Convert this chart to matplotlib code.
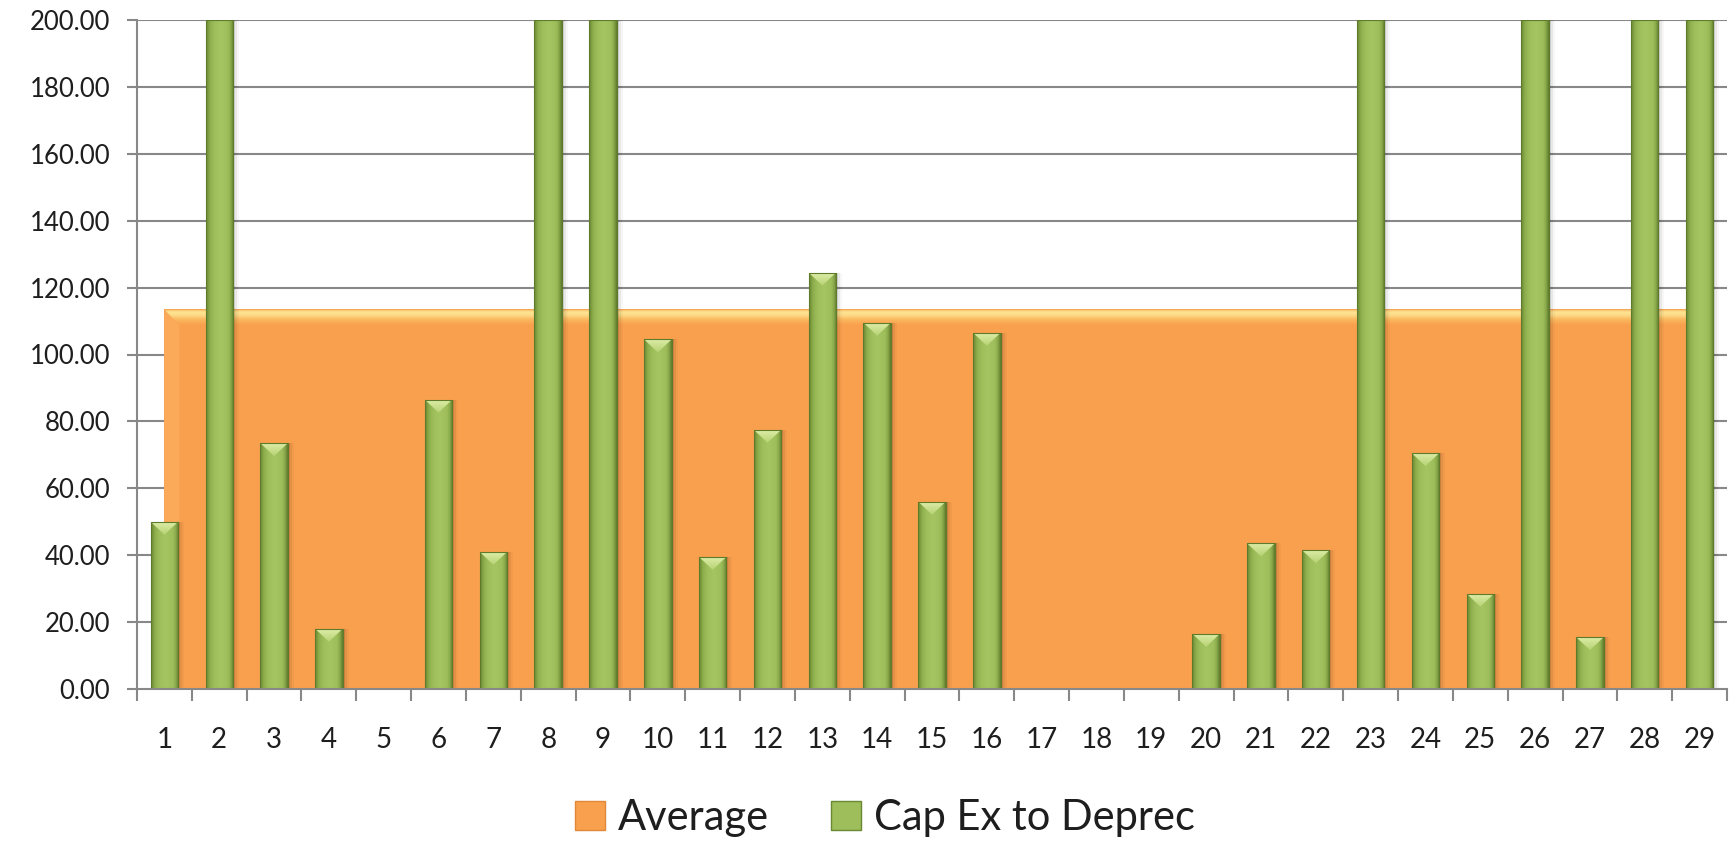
import numpy as np
import matplotlib
matplotlib.use("Agg")
import matplotlib.pyplot as plt
from matplotlib.patches import Polygon, Rectangle
from matplotlib.colors import LinearSegmentedColormap

plt.rcParams['font.family'] = ['Lato', 'DejaVu Sans']

categories = list(range(1, 30))
cap_ex_to_deprec = [50.0, 260.0, 73.5, 18.0, 0.0, 86.5, 41.0, 240.0, 230.0, 104.5,
                    39.5, 77.5, 124.5, 109.5, 56.0, 106.5, 0.0, 0.0, 0.0, 16.5,
                    43.5, 41.5, 250.0, 70.5, 28.5, 270.0, 15.5, 235.0, 245.0]
average = [113.6] * 29
y_ticks = [0, 20, 40, 60, 80, 100, 120, 140, 160, 180, 200]

GREEN = "#9DBE5A"
GREEN_DARK = "#6A8733"
GREEN_LIGHT = "#DCEDA6"
ORANGE = "#F9A04E"
ORANGE_LIGHT = "#FEE593"
GRID = "#888888"
TEXT = "#1E1E1E"

W, H = 1736, 842
fig = plt.figure(figsize=(W / 100, H / 100), dpi=100)
ax_box = [137 / W, 1 - 689 / H, (1727 - 137) / W, (689 - 20) / H]
ax = fig.add_axes(ax_box)

x = np.array(categories, dtype=float)
ymax = 200.0
px_y = ymax / (ax_box[3] * H)
px_x = 29.0 / (ax_box[2] * W)

# horizontal gridlines
for t in y_ticks[1:]:
    ax.axhline(t, color=GRID, lw=1.5, zorder=0)

# Average series as a flat area with a bevelled top edge
avg = np.array(average)
ax.fill_between(x, 0, avg, color=ORANGE, lw=0, zorder=1)
bev = 16 * px_y
bevx = 15 * px_x
band = Polygon([[x[0], avg[0]], [x[-1], avg[-1]], [x[-1], avg[-1] - bev],
                [x[0] + bevx, avg[0] - bev]], closed=True,
               facecolor="none", edgecolor="none", zorder=1.5)
ax.add_patch(band)
ocmap = LinearSegmentedColormap.from_list(
    "o", [(0.0, ORANGE), (0.35, "#FBB85F"), (0.6, "#FDD885"),
          (0.78, ORANGE_LIGHT), (0.92, "#FCD07C"), (1.0, "#EE9040")])
vgrad = np.linspace(0, 1, 64).reshape(-1, 1)
im = ax.imshow(vgrad, cmap=ocmap, aspect="auto", origin="lower",
               interpolation="bicubic",
               extent=[x[0], x[-1], avg[0] - bev, avg[0]], zorder=1.5)
im.set_clip_path(band)
# left bevel edge of the area
ledge = Polygon([[x[0], 0], [x[0], avg[0]], [x[0] + bevx, avg[0] - bev],
                 [x[0] + bevx, 0]], closed=True, facecolor="#FBAA5A",
                edgecolor="none", zorder=1.4)
ax.add_patch(ledge)

# Cap Ex to Deprec bars with side shading and a bevelled top
w = 0.5
gcmap = LinearSegmentedColormap.from_list(
    "g", [(0.0, GREEN_DARK), (0.14, "#8EAF4D"), (0.3, GREEN), (0.55, "#A5C563"),
          (0.8, GREEN), (0.9, "#89A84A"), (1.0, "#5F7A2C")])
hgrad = np.linspace(0, 1, 64).reshape(1, -1)
tcmap = LinearSegmentedColormap.from_list("t", ["#B7D274", GREEN_LIGHT])
for xi, v in zip(x, cap_ex_to_deprec):
    if v <= 0:
        continue
    top = min(v, ymax)
    # soft shadow to the right of the bar
    for k, a in [(2, 0.10), (4, 0.06), (6, 0.03)]:
        ax.add_patch(Rectangle((xi + w / 2, 0), k * px_x, top,
                               facecolor="#000000", alpha=a, lw=0, zorder=2))
    rect = Rectangle((xi - w / 2, 0), w, top, facecolor=GREEN,
                     edgecolor="none", lw=0, zorder=3)
    ax.add_patch(rect)
    imb = ax.imshow(hgrad, cmap=gcmap, aspect="auto", interpolation="bicubic",
                    extent=[xi - w / 2, xi + w / 2, 0, top], zorder=3.1)
    imb.set_clip_path(rect)
    if v <= ymax:
        tri = Polygon([[xi - w / 2, top], [xi + w / 2, top],
                       [xi, top - 13 * px_y]], closed=True,
                      facecolor="none", edgecolor="none", zorder=3.2)
        ax.add_patch(tri)
        imt = ax.imshow(vgrad, cmap=tcmap, aspect="auto", origin="lower",
                        interpolation="bicubic",
                        extent=[xi - w / 2, xi + w / 2, top - 13 * px_y, top],
                        zorder=3.2)
        imt.set_clip_path(tri)
    ax.add_patch(Rectangle((xi - w / 2, 0), w, top, facecolor="none",
                           edgecolor="#5E7A2B", lw=0.8, zorder=3.3))
ax.set_xlim(0.5, 29.5)
ax.set_ylim(0, ymax)

# axes
for s in ["top", "right", "bottom"]:
    ax.spines[s].set_visible(False)
ax.spines["left"].set_color(GRID)
ax.spines["left"].set_linewidth(1.5)
ax.spines["left"].set_zorder(0.5)
ax.axhline(0, color=GRID, lw=1.5, zorder=4, clip_on=False)

ax.set_yticks(y_ticks)
ax.set_yticklabels([f"{t:.2f}" for t in y_ticks])
ax.tick_params(axis="y", length=7.2, width=1.5, color=GRID, labelsize=18.5,
               labelcolor=TEXT, pad=12)

ax.set_xticks(np.arange(0.5, 30.0, 1.0))
ax.set_xticklabels([])
ax.set_xticks(x, minor=True)
ax.set_xticklabels([str(c) for c in categories], minor=True)
ax.tick_params(axis="x", which="major", length=8.6, width=1.5, color=GRID)
ax.tick_params(axis="x", which="minor", length=0, labelsize=20,
               labelcolor=TEXT, pad=27)

# legend
h1 = Rectangle((0, 0), 1, 1, facecolor=ORANGE, edgecolor="#E08838", lw=1)
h2 = Rectangle((0, 0), 1, 1, facecolor=GREEN, edgecolor=GREEN_DARK, lw=1)
fig.legend([h1, h2], ["Average", "Cap Ex to Deprec"], loc="center",
           bbox_to_anchor=(885 / W, 1 - 818 / H), ncol=2, frameon=False,
           fontsize=30, labelcolor=TEXT,
           handlelength=0.72, handleheight=0.72, handletextpad=0.3,
           columnspacing=1.5, borderpad=0)

fig.savefig("out.png", dpi=100)
